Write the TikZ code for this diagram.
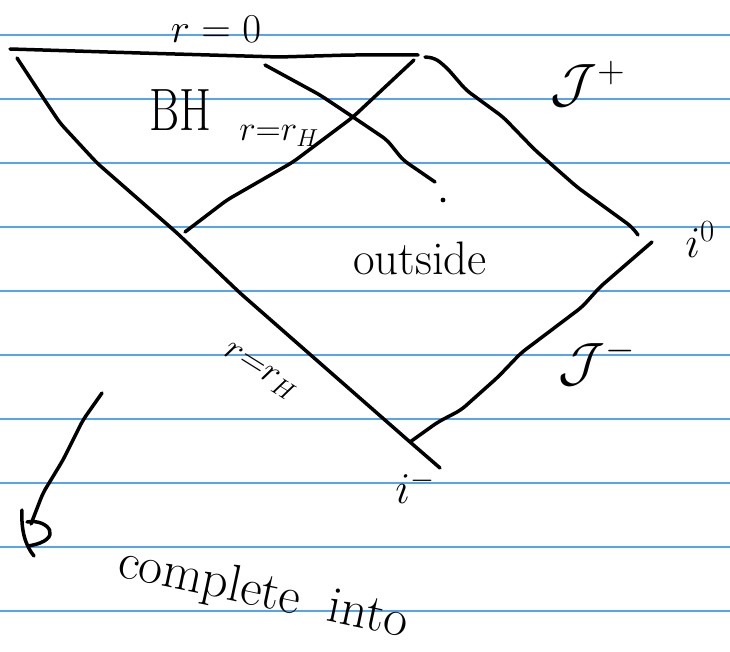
\documentclass[tikz,border=0pt]{standalone}
\usepackage{fix-cm}
\definecolor{ruleblue}{RGB}{86,164,236}
\begin{document}
\begin{tikzpicture}[x=1pt,y=-1pt,
  pen/.style={line width=3.5pt, line cap=round, line join=round, rounded corners=6pt},
  headpen/.style={line width=3.5pt, line cap=round},
  rule/.style={draw=ruleblue, line width=1.6pt},
  lbl/.style={inner sep=0pt, outer sep=0pt}]
\useasboundingbox (0,0) rectangle (730,652);
\foreach \y in {35,99,163,227,291,355,419,483,547,611}
  \draw[rule] (0,\y) -- (730,\y);
% corners
\coordinate (TL) at (10,49);
\coordinate (TR) at (418,55);
\coordinate (LT) at (17,58);
\coordinate (IT) at (414,60);
\coordinate (HB) at (185,232);
\coordinate (IM) at (410,442);
\coordinate (LE) at (440,468);
\coordinate (RT) at (425,57);
\coordinate (IZa) at (638,235);
\coordinate (IZb) at (652,242);
\coordinate (CS) at (265,65);
\coordinate (CE) at (435,182);
\coordinate (AS) at (102,393);
\coordinate (AE) at (31,524);
% singularity r=0
\draw[pen] (TL) -- (140,53) -- (279,57) -- (350,55) -- (TR);
% left edge
\draw[pen] (LT) -- (40,93) -- (60,123) -- (97,163) -- (177,233) -- (240,293) -- (313,357) -- (IM) -- (LE);
% horizon
\draw[pen] (IT) -- (353,117) -- (293,162) -- (227,200) -- (HB);
% crossing line
\draw[pen] (CS) -- (320,95) -- (353,117) -- (387,140) -- (403,160) -- (CE);
\fill (443,200) circle (2.4pt);
% J+
\draw[pen] (RT) -- (435,58) -- (447,68) -- (466,90) -- (503,117) -- (535,150) -- (577,187) -- (632,227) -- (IZa);
% J-
\draw[pen] (IZb) -- (600,287) -- (582,307) -- (521,353) -- (498,377) -- (461,410) -- (438,422) -- (IM);
% arrow
\draw[pen] (AS) -- (83,420) -- (63,460) -- (43,493) -- (AE);
\draw[headpen] (22,510) .. controls (21,530) and (25,545) .. (34,556);
\draw[headpen] (27,522) .. controls (48,518) and (66,540) .. (28,546);
% labels
\node[lbl, font=\fontsize{41}{43}\selectfont] (r0) at (216,29) {$r = 0$};
\node[lbl, font=\fontsize{46}{48}\selectfont] (bh) at (180,110) {\scalebox{1}[1.3]{BH}};
\node[lbl, font=\fontsize{35}{37}\selectfont] (rh1) at (279,136) {$r{=}r_H$};
\node[lbl, font=\fontsize{54}{56}\selectfont] (jp) at (588,84) {$\mathcal{J}^{+}$};
\node[lbl, font=\fontsize{44}{46}\selectfont] (izero) at (700,240) {$i^{0}$};
\node[lbl, font=\fontsize{47}{49}\selectfont] (out) at (420,258) {outside};
\node[lbl, font=\fontsize{54}{56}\selectfont] (jm) at (597,362) {$\mathcal{J}^{-}$};
\node[lbl, font=\fontsize{44}{46}\selectfont] (iminus) at (415,487) {$i^{-}$};
\node[lbl, font=\fontsize{36}{38}\selectfont, rotate=-32] (rh2) at (260,372) {$r{=}r_H$};
\node[lbl, font=\fontsize{52}{54}\selectfont, rotate=-12] (ci) at (263,594) {complete\hspace{0.25em} into};
\end{tikzpicture}
\end{document}
